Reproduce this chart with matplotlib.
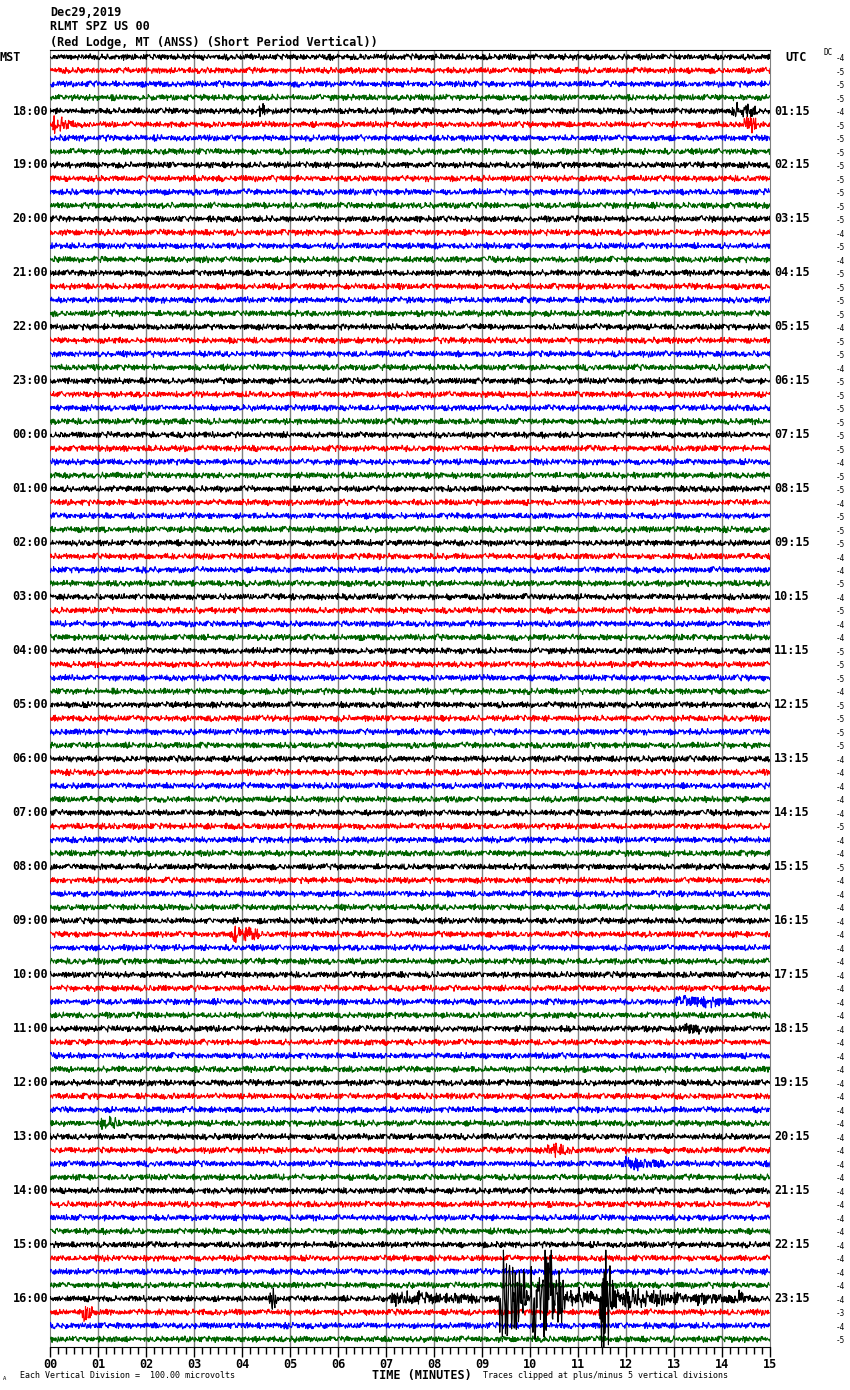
import numpy as np
import matplotlib
matplotlib.use('Agg')
import matplotlib.pyplot as plt
import matplotlib.transforms as mtransforms

# header text
DATE = 'Dec29,2019'
STATION = 'RLMT SPZ US 00'
SITE = '(Red Lodge, MT (ANSS) (Short Period Vertical))'

# hour labels, one every 4 rows (rows 4, 8, ..., 92)
MST_HOURS = ['18:00', '19:00', '20:00', '21:00', '22:00', '23:00', '00:00',
             '01:00', '02:00', '03:00', '04:00', '05:00', '06:00', '07:00',
             '08:00', '09:00', '10:00', '11:00', '12:00', '13:00', '14:00',
             '15:00', '16:00']
UTC_HOURS = ['01:15', '02:15', '03:15', '04:15', '05:15', '06:15', '07:15',
             '08:15', '09:15', '10:15', '11:15', '12:15', '13:15', '14:15',
             '15:15', '16:15', '17:15', '18:15', '19:15', '20:15', '21:15',
             '22:15', '23:15']
MINUTE_LABELS = ['%02d' % m for m in range(16)]

# DC offset printed at the right of every trace (96 rows of 15 min)
DC_VALUES = [-4, -5, -5, -5, -4, -5, -5, -5, -5, -5, -5, -5, -5, -4,
             -5, -4, -5, -5, -5, -5, -4, -5, -5, -4, -5, -5, -5, -5, -5,
             -5, -4, -5, -5, -4, -5, -5, -5, -4, -4, -5, -4, -5, -4, -4,
             -5, -5, -5, -4, -5, -5, -5, -5, -4, -4, -4, -4, -4, -5, -4,
             -4, -5, -4, -4, -4, -4, -4, -4, -4, -4, -4, -4, -4, -4, -4,
             -4, -4, -4, -4, -4, -4, -4, -4, -4, -4, -4, -4, -4, -4,
             -4, -4, -4, -4, -4, -3, -4, -5]

TRACE_COLORS = ['black', '#ff0000', '#0000ff', '#006400']

# background noise texture (digits 0-9, read loosely from the wiggles)
NOISE_DIGITS = (
    "4627153804681372560493812765043817625490361857240631587204936152"
    "1758264039571846203759148620375184692037516482957031648259374061"
    "0651837429560183746295071836452907184365209718436590271845630724"
    "3940571628305947162830495716283049571628390457162839045716283904"
)

# events seen on the drum: row, start minute, end minute, amplitude (rows)
EVENT_ROW = [4, 4, 5, 5, 65, 70, 72, 79, 81, 82,
             92, 92, 92, 92, 92, 92, 92, 92, 92, 93]
EVENT_T0 = [4.35, 14.2, 0.05, 14.45, 3.8, 13.0, 13.1, 1.05, 10.3, 11.9,
            4.55, 7.0, 9.35, 10.0, 10.75, 11.45, 11.85, 13.4, 14.3, 0.65]
EVENT_T1 = [4.5, 14.8, 0.5, 14.75, 4.5, 14.3, 13.9, 1.5, 10.9, 12.8,
            4.72, 9.35, 9.95, 10.75, 11.45, 11.85, 13.4, 14.6, 14.45, 0.95]
EVENT_AMP = [0.5, 0.5, 0.4, 0.5, 0.5, 0.3, 0.3, 0.4, 0.4, 0.4,
             1.6, 0.35, 4.5, 4.5, 0.8, 4.2, 0.6, 0.35, 0.6, 0.8]

N_ROWS = len(DC_VALUES)
N_SAMP = 1400
CLIP = 3.6
BASE_AMP = 0.22

digits = np.array([int(c) for c in NOISE_DIGITS])
noise_a = (digits[:251] - 4.5) / 4.5
noise_b = (digits[:239] - 4.5) / 4.5

t = np.linspace(0, 15, N_SAMP)
k = np.arange(N_SAMP)

fig = plt.figure(figsize=(8.5, 13.9), dpi=100)
ax = fig.add_axes([50 / 850, 1 - 1347 / 1390, 720 / 850, 1297 / 1390])
ax.set_xlim(0, 15)
ax.set_ylim(95.58, -0.52)

for r in range(N_ROWS):
    na = noise_a[(k * 37 + r * 101) % 251]
    nb = noise_b[(k * 53 + r * 29) % 239]
    y = BASE_AMP * (0.75 * na + 0.35 * nb)
    for er, t0, t1, amp in zip(EVENT_ROW, EVENT_T0, EVENT_T1, EVENT_AMP):
        if er != r:
            continue
        u = (t - t0) / (t1 - t0)
        env = np.where((u >= 0) & (u <= 1),
                       np.clip(u / 0.06, 0, 1) * (1 - np.clip(u, 0, 1)) ** 0.5, 0)
        nc = noise_b[(k * 71 + r * 13 + 7) % 239]
        y = y + amp * env * (0.6 * na + 0.6 * nc)
    y = np.clip(y, -CLIP, CLIP)
    ax.plot(t, r + y, color=TRACE_COLORS[r % 4], lw=0.8,
            zorder=5 if r == 92 else 3)

for m in range(1, 15):
    ax.axvline(m, color='#808080', lw=1.0, zorder=1)

for side in ['left', 'right']:
    ax.spines[side].set_color('#808080')
for side in ['top', 'bottom']:
    ax.spines[side].set_color('black')

ax.set_yticks([])
ax.set_xticks(range(16))
ax.set_xticklabels(MINUTE_LABELS, family='DejaVu Sans Mono', weight='bold',
                   fontsize=8.5)
ax.set_xticks(np.arange(0, 15.001, 1 / 6), minor=True)
ax.tick_params(axis='x', which='major', length=7, width=1, pad=1)
ax.tick_params(axis='x', which='minor', length=5, width=1)

mono = dict(family='DejaVu Sans Mono', weight='bold')
fig.text(50 / 850, 1 - 12 / 1390, DATE, va='center', ha='left', fontsize=8.5, **mono)
fig.text(50 / 850, 1 - 27 / 1390, STATION, va='center', ha='left', fontsize=8.5, **mono)
fig.text(50 / 850, 1 - 42 / 1390, SITE, va='center', ha='left', fontsize=8.5, **mono)

trans = mtransforms.blended_transform_factory(fig.transFigure, ax.transData)
ax.text(0 / 850, 0, 'MST', transform=trans, va='center', ha='left',
        fontsize=8.5, **mono)
ax.text(785 / 850, 0, 'UTC', transform=trans, va='center', ha='left',
        fontsize=8.5, **mono)
ax.text(824 / 850, -0.3, 'DC', transform=trans, va='center', ha='left',
        fontsize=5.5, family='DejaVu Sans Mono')
for i, lab in enumerate(MST_HOURS):
    ax.text(48 / 850, 4 * (i + 1), lab, transform=trans, va='center',
            ha='right', fontsize=8.5, **mono)
for i, lab in enumerate(UTC_HOURS):
    ax.text(774 / 850, 4 * (i + 1), lab, transform=trans, va='center',
            ha='left', fontsize=8.5, **mono)
for r, dc in enumerate(DC_VALUES):
    ax.text(845 / 850, r + 0.12, str(dc), transform=trans, va='center',
            ha='right', fontsize=5.5, family='DejaVu Sans Mono')

fig.text(422 / 850, 1 - 1375 / 1390, 'TIME (MINUTES)', ha='center',
         va='center', fontsize=8.5, **mono)
fig.text(20 / 850, 1 - 1376 / 1390, 'Each Vertical Division =  100.00 microvolts',
         ha='left', va='center', fontsize=6, family='DejaVu Sans Mono')
fig.text(483 / 850, 1 - 1376 / 1390,
         'Traces clipped at plus/minus 5 vertical divisions',
         ha='left', va='center', fontsize=6, family='DejaVu Sans Mono')
fig.text(3 / 850, 1 - 1379 / 1390, 'A', ha='left', va='center', fontsize=4,
         family='DejaVu Sans Mono')

fig.savefig('out.png', dpi=100)
